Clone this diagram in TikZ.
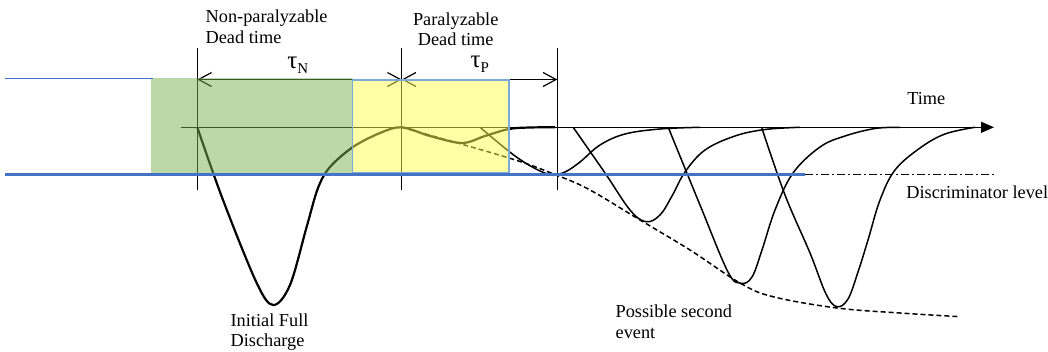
\documentclass[tikz,border=0pt]{standalone}
\usepackage{fontspec}
\setmainfont{Liberation Serif}
\usetikzlibrary{arrows.meta}
\definecolor{lineblue}{HTML}{4472C4}
\definecolor{edgeblue}{HTML}{7EAADB}
\definecolor{deadgreen}{HTML}{77B14D}
\definecolor{deadyellow}{HTML}{FFFF4D}

\begin{document}
\begin{tikzpicture}[x=1pt, y=-1pt, line width=1.3pt,
  txt/.style={font=\fontsize{18.3}{20.6}\selectfont, inner sep=0pt},
  tau/.style={font=\fontsize{25}{25}\selectfont, inner sep=0pt, anchor=base west},
  pulse/.style={line width=1.5pt, smooth, tension=0.6},
  dimline/.style={line width=1.2pt,
    {Straight Barb[length=13pt,width=14pt]}-{Straight Barb[length=13pt,width=14pt]}}]

\useasboundingbox (0,0) rectangle (1048,352);

% Time marks
\coordinate (T0) at (197.3,127.3);
\coordinate (T1) at (401.7,127.3);
\coordinate (T2) at (557.3,127.3);
\foreach \x in {197.3, 401.7, 557.3}
  \draw (\x,48) -- (\x,190);

% Dead time spans
\coordinate (D0) at (197.3,79.5);
\coordinate (D1) at (401.7,79.5);
\coordinate (D2) at (557.3,79.5);
\draw[dimline] (D0) -- (D1);
\draw[dimline] (D1) -- (D2);

% Time axis
\coordinate (axstart) at (180.7,127.3);
\coordinate (axend) at (994,127.3);
\draw[-{Triangle[length=13pt,width=11pt]}] (axstart) -- (axend);

% Initial full discharge
\draw[line width=2.2pt, smooth, tension=0.55] plot coordinates {
  (197.3,127.3) (223,200) (256.7,283) (273.3,305)
  (290,285) (306.7,226.7) (318,188) (330,167) (353,147) (380,133)
  (401.7,127.3) (430,136) (462,143) (485,136) (509,129) (530,127.5) (555,127.3)};

% Later pulses
\draw[pulse] plot coordinates {
  (480,127.3) (515,156) (540,171) (553,174.5) (565,172) (580,162)
  (600,145) (625,134) (660,129) (700,127.3)};
\draw[pulse] plot coordinates {
  (573.3,127.5) (605,173) (630,210) (646,221.7) (660,215) (672,196)
  (685,172) (705,150) (735,136) (765,129.5) (800,127.3)};
\draw[pulse] plot coordinates {
  (668.3,127.5) (700,205) (728,272) (741,283.3) (752,277) (762,250)
  (775,210) (793,173) (820,147) (845,136) (875,128.5) (900,127.3)};
\draw[pulse] plot coordinates {
  (761.7,127.5) (785,195) (810,253) (826,294) (837,306.7) (848,299)
  (858,272) (868,240) (880,200) (895,170) (920,148) (945,134) (975,127.3)};

% Envelope of possible second events
\draw[pulse, dash pattern=on 5pt off 3pt] plot coordinates {
  (401.7,127.3) (509,158) (557.3,175.5) (590,190) (640,220) (690,250)
  (740,283) (773,296.7) (837,308) (900,313) (960,316.7)};

% Dead time boxes
\fill[deadgreen, fill opacity=0.5] (151,78.3) rectangle (352.5,173.5);
\filldraw[fill=deadyellow, fill opacity=0.5, draw=edgeblue, line width=1.5pt]
  (352.5,80) rectangle (509,173);

% Baseline and discriminator level
\draw[lineblue, line width=1.5pt] (5,78.5) -- (153,78.5);
\draw[lineblue, line width=3pt] (5,175) -- (805,175);
\draw[line width=1pt, dash pattern=on 8pt off 3pt on 2pt off 3pt] (805,175) -- (995,175);

% Labels
\node[txt, anchor=north west, align=left] (nonpar) at (205,9.5) {Non-paralyzable\\Dead time};
\node[txt, anchor=north, align=center] (par) at (455.7,12) {Paralyzable\\Dead time};
\node[tau] (tauN) at (286.7,68.3) {τ\raisebox{-5pt}{\fontsize{15}{15}\selectfont N}};
\node[tau] (tauP) at (470,68) {τ\raisebox{-5pt}{\fontsize{15}{15}\selectfont P}};
\node[txt, anchor=base west] (time) at (906.7,105) {Time};
\node[txt, anchor=base west] (disc) at (905.7,198.3) {Discriminator level};
\node[txt, anchor=north west, align=left] (initial) at (230,313) {Initial Full\\Discharge};
\node[txt, anchor=north west, align=left] (second) at (615,304.5) {Possible second\\event};

\end{tikzpicture}
\end{document}
